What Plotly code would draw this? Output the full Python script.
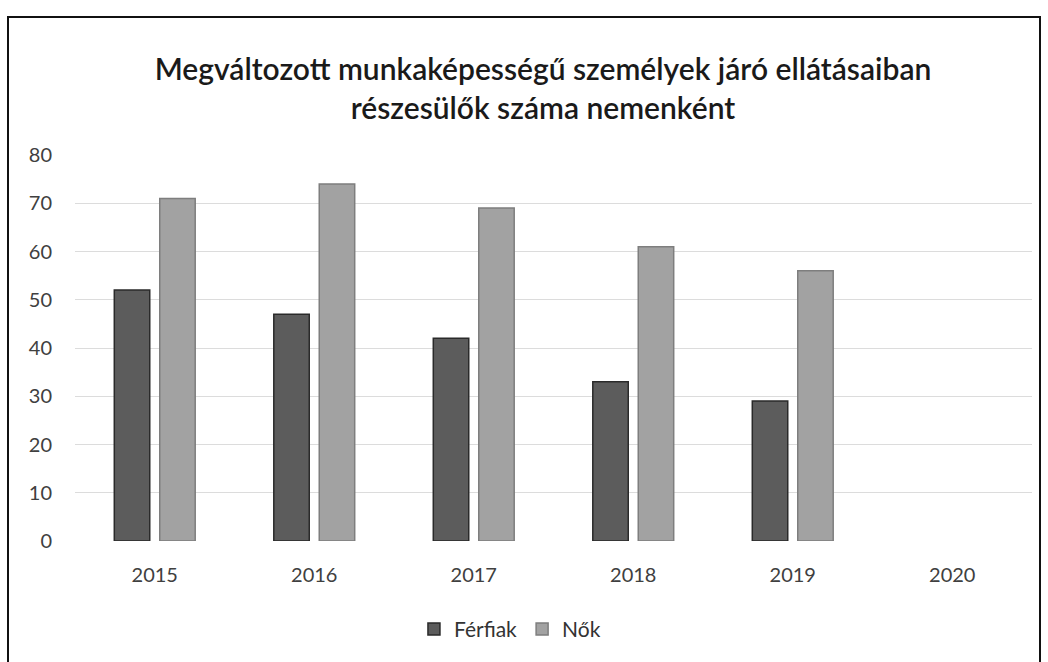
import plotly.graph_objects as go

years = ["2015", "2016", "2017", "2018", "2019", "2020"]
ferfiak = [52, 47, 42, 33, 29, None]
nok = [71, 74, 69, 61, 56, None]
y_ticks = [0, 10, 20, 30, 40, 50, 60, 70, 80]

title_text = ("Megváltozott munkaképességű személyek járó ellátásaiban"
              "<br>részesülők száma nemenként")

fig = go.Figure()
fig.add_trace(go.Bar(
    x=years, y=ferfiak, name="Férfiak",
    marker=dict(color="#5c5c5c", line=dict(color="#2a2a2a", width=1.5)),
))
fig.add_trace(go.Bar(
    x=years, y=nok, name="Nők",
    marker=dict(color="#a2a2a2", line=dict(color="#7e7e7e", width=1.5)),
))

# chart frame
fig.add_shape(type="rect", xref="paper", yref="paper",
              x0=-67 / 957, x1=1040 / 957 - 75 / 957,
              y0=-0.40, y1=1 + 139 / 389,
              line=dict(color="#111111", width=2), layer="below")

fig.update_layout(
    width=1048, height=662,
    margin=dict(l=75, r=16, t=155, b=118),
    paper_bgcolor="white", plot_bgcolor="white",
    font=dict(family="Lato, Open Sans, sans-serif", color="#404040", size=20),
    title=dict(text=title_text, x=543 / 1048, xanchor="center",
               y=1 - 80 / 662, yanchor="middle", yref="container",
               font=dict(family="Lato, sans-serif", size=30, color="#1a1a1a",
                         weight=600)),
    bargap=0.43, bargroupgap=0.22,
    barmode="group",
    showlegend=True,
    legend=dict(orientation="h", x=0.4545, xanchor="center",
                y=-89 / 389, yanchor="middle",
                font=dict(size=21, color="#333333"),
                itemwidth=30),
    xaxis=dict(showgrid=False, showline=False, ticks="",
               ticklabelstandoff=20, tickfont=dict(size=20)),
    yaxis=dict(range=[0, 80], tickvals=y_ticks, showgrid=True,
               gridcolor="#dcdcdc", gridwidth=1, zeroline=False,
               showline=False, ticks="", ticklabelstandoff=22,
               tickfont=dict(size=20)),
)

fig.write_html("out.html")
